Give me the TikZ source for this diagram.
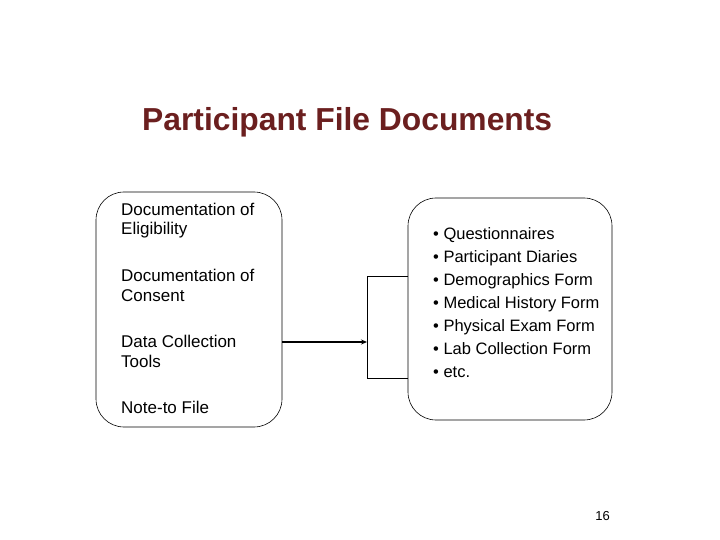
\documentclass[tikz,border=0pt]{standalone}
\usepackage{fontspec}
\setmainfont{Liberation Sans}
\usetikzlibrary{arrows.meta}
\definecolor{titlered}{HTML}{6B1F1F}
\begin{document}
\begin{tikzpicture}[x=1pt,y=-1pt,
  box/.style={draw,rounded corners=28pt,line width=0.6pt},
  txt/.style={anchor=west,inner sep=0,font=\fontsize{17}{19.5}\selectfont,align=left},
  lst/.style={anchor=west,inner sep=0,font=\fontsize{16.5}{23}\selectfont,align=left}]
\useasboundingbox (0,0) rectangle (720,540);
\node[anchor=west,inner sep=0,text=titlered,font=\bfseries\fontsize{31.8}{36}\selectfont] (title) at (142,122) {Participant File Documents};
\draw[box] (96,192) rectangle (282,427);
\node[minimum width=186pt,minimum height=235pt,anchor=north west,inner sep=0] (L) at (96,192) {};
\draw[box] (408,198) rectangle (612,420);
\node[minimum width=204pt,minimum height=222pt,anchor=north west,inner sep=0] (R) at (408,198) {};
\node[txt] (t1) at (121,220.5) {Documentation of\\Eligibility};
\node[txt] (t2) at (121,285.5) {Documentation of\\Consent};
\node[txt] (t3) at (121,351.5) {Data Collection\\Tools};
\node[txt] (t4) at (121,407) {Note-to File};
\node[lst] (list) at (433,303) {• Questionnaires\\• Participant Diaries\\• Demographics Form\\• Medical History Form\\• Physical Exam Form\\• Lab Collection Form\\• etc.};
\coordinate (a) at (367,342);
\coordinate (b1) at (367,276);
\coordinate (b2) at (367,378);
\draw[line width=1.4pt,-{Stealth[length=6pt,width=5pt]}] (L.east |- a) -- (a);
\draw[line width=0.6pt] (R.west |- b1) -- (b1) -- (b2) -- (R.west |- b2);
\node[anchor=east,inner sep=0,font=\fontsize{13}{15}\selectfont] (pg) at (610,516) {16};
\end{tikzpicture}
\end{document}
